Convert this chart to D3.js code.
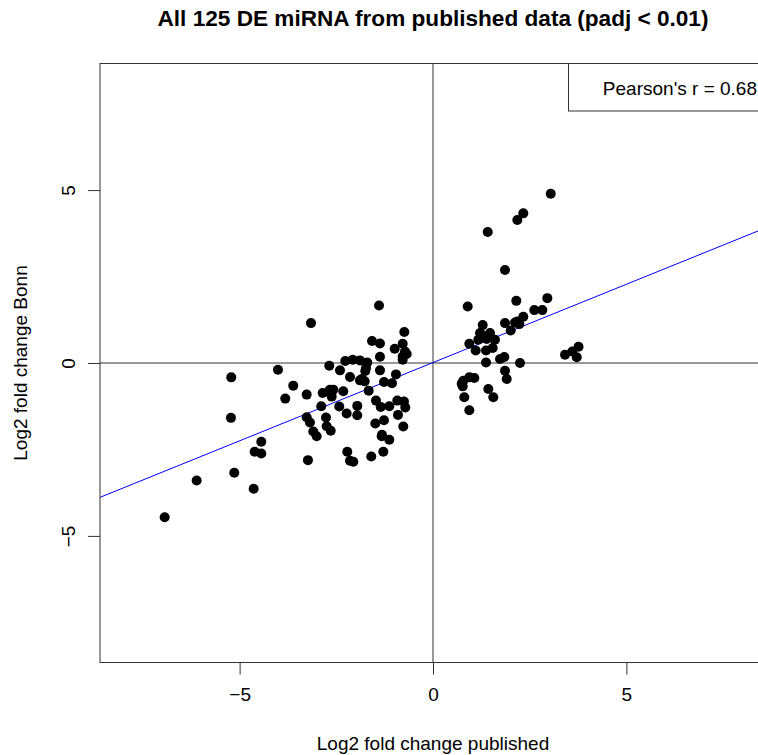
<!DOCTYPE html>
<html>
<head>
<meta charset="utf-8">
<script src="https://d3js.org/d3.v7.min.js"></script>
<style>
  body { margin: 0; background: white; }
  svg { display: block; font-family: "Liberation Sans", Arial, sans-serif; }
</style>
</head>
<body>
<div id="container"></div>
<script>
// log2 fold change published (x) / Bonn (y)
let published = [
  -5.216, -4.008, -3.613, -3.820, -5.224, -4.440, -4.611, -4.440, -5.138, -6.111, -4.637, -6.938,
  -1.396, -3.155, -0.742, -1.577, -1.371, -0.784, -0.990, -0.680, -0.784, -0.784, -1.371, -2.682,
  -2.268, -2.077, -1.888, -1.699, -2.405, -1.751, -1.371, -2.146, -0.957, -1.888, -1.766, -1.267,
  -1.060, -1.663, -2.320, -3.266, -2.852, -2.664, -2.620, -1.474, -0.923, -0.750, -2.889, -2.423,
  -1.958, -1.352, -1.130, -0.716, -2.232, -1.958, -0.905, -3.266, -2.767, -1.492, -1.267, -3.181,
  -2.749, -0.768, -2.645, -3.095, -1.319, -3.008, -1.130, -2.216, -1.285, -1.596, -2.146, -2.061,
  -3.233, -1.733, -1.836, -0.724, -2.578, -2.682, -1.327,
  3.044, 2.335, 2.180, 1.415, 1.862,
  0.897, 2.154, 2.956, 2.620, 2.826, 2.335, 1.285, 1.862, 2.121, 2.232, 2.009, 1.474, 1.259, 1.603,
  1.171, 0.939, 1.104, 1.371, 1.544, 1.371, 1.733, 1.844, 2.250, 1.862, 1.906, 0.784, 0.939, 1.068,
  0.768, 1.430, 1.559, 0.809, 0.939, 3.414, 3.602, 3.763, 3.716,
  1.389, 1.215, 0.742, 2.180
];
let bonn = [
  -0.415, -0.193, -0.655, -1.030, -1.586, -2.279, -2.567, -2.616, -3.173, -3.395, -3.634, -4.462,
  1.661, 1.154, 0.894, 0.635, 0.565, 0.557, 0.412, 0.260, 0.190, 0.095, 0.182, -0.078,
  0.058, 0.095, 0.075, 0.017, -0.213, -0.231, -0.213, -0.404, -0.329, -0.502, -0.531, -0.548,
  -0.588, -0.799, -0.819, -0.914, -0.865, -0.770, -0.972, -1.087, -1.087, -1.116, -1.252, -1.260,
  -1.240, -1.269, -1.252, -1.289, -1.462, -1.511, -1.500, -1.569, -1.578, -1.751, -1.656, -1.722,
  -1.829, -1.837, -1.961, -1.982, -2.077, -2.117, -2.221, -2.567, -2.567, -2.703, -2.827, -2.855,
  -2.809, -0.144, -0.461, 0.335, -0.770, -0.848, -2.117,
  4.892, 4.327, 4.133, 3.787, 2.691,
  1.633, 1.797, 1.875, 1.529, 1.529, 1.335, 1.096, 1.154, 1.171, 1.125, 0.940, 0.865, 0.816, 0.672,
  0.672, 0.557, 0.363, 0.363, 0.433, 0.017, 0.115, 0.173, 0.000, -0.222, -0.461, -0.511, -0.415, -0.433,
  -0.675, -0.750, -0.992, -0.992, -1.367, 0.239, 0.335, 0.470, 0.167,
  0.692, 0.865, -0.597, 1.200
];

// fitted line (lm) and correlation
let fitIntercept = 0.013;
let fitSlope = 0.4527;
let pearsonR = "0.68";

let xTicks = [-5, 0, 5];
let yTicks = [-5, 0, 5];
let xLimits = [-8.61, 8.61];
let yLimits = [-8.66, 8.66];

let points = published.map(function(d, i){ return {x: d, y: bonn[i]}; });

let w = 758;
let h = 755;
let plotLeft = 100, plotRight = 766, plotTop = 63.5, plotBottom = 662.5;
let labelSize = "19px";

let viz = d3.select("#container")
  .append("svg")
    .attr("width", w)
    .attr("height", h)
;

let x = d3.scaleLinear().domain(xLimits).range([plotLeft, plotRight]);
let y = d3.scaleLinear().domain(yLimits).range([plotBottom, plotTop]);

viz.append("clipPath").attr("id", "plotClip")
  .append("rect")
    .attr("x", plotLeft).attr("y", plotTop)
    .attr("width", plotRight - plotLeft).attr("height", plotBottom - plotTop)
;

let plot = viz.append("g").attr("clip-path", "url(#plotClip)");

//zero lines
plot.append("line")
    .attr("x1", x(0)).attr("x2", x(0))
    .attr("y1", plotTop).attr("y2", plotBottom)
    .style("stroke", "#333")
    .style("stroke-width", 1)
;
plot.append("line")
    .attr("x1", plotLeft).attr("x2", plotRight)
    .attr("y1", y(0)).attr("y2", y(0))
    .style("stroke", "#333")
    .style("stroke-width", 1)
;

//regression line
plot.append("line")
    .attr("x1", x(xLimits[0])).attr("y1", y(fitIntercept + fitSlope * xLimits[0]))
    .attr("x2", x(xLimits[1])).attr("y2", y(fitIntercept + fitSlope * xLimits[1]))
    .style("stroke", "#0000ff")
    .style("stroke-width", 1)
;

//points
plot.selectAll("circle").data(points)
  .enter()
  .append("circle")
    .attr("cx", function(d){ return x(d.x); })
    .attr("cy", function(d){ return y(d.y); })
    .attr("r", 5)
    .style("fill", "black")
;

//legend box
let legend = viz.append("g");
legend.append("rect")
    .attr("x", 568.5).attr("y", plotTop)
    .attr("width", plotRight - 568.5).attr("height", 111 - plotTop)
    .style("fill", "white")
    .style("stroke", "#333")
;
legend.append("text")
    .attr("x", 757)
    .attr("y", 95)
    .attr("text-anchor", "end")
    .style("font-size", labelSize)
    .text("Pearson's r = " + pearsonR)
;

//frame
viz.append("rect")
    .attr("x", plotLeft).attr("y", plotTop)
    .attr("width", plotRight - plotLeft).attr("height", plotBottom - plotTop)
    .style("fill", "none")
    .style("stroke", "#333")
;

//axes
let xAxis = viz.append("g")
    .attr("transform", "translate(0," + plotBottom + ")")
    .call(d3.axisBottom(x).tickValues(xTicks).tickSize(12).tickPadding(13))
;
xAxis.select(".domain").remove();

let yAxis = viz.append("g")
    .attr("transform", "translate(" + plotLeft + ",0)")
    .call(d3.axisLeft(y).tickValues(yTicks).tickSize(12))
;
yAxis.select(".domain").remove();
yAxis.selectAll(".tick text")
    .attr("x", 0)
    .attr("dy", 0)
    .attr("transform", "translate(-25,0) rotate(-90)")
    .attr("text-anchor", "middle")
;

viz.selectAll(".tick line").style("stroke", "#333");
viz.selectAll(".tick text")
    .style("font-family", "Liberation Sans, Arial, sans-serif")
    .style("font-size", labelSize)
    .style("fill", "black")
;

//titles
viz.append("text")
    .attr("x", 433)
    .attr("y", 26)
    .attr("text-anchor", "middle")
    .style("font-weight", "bold")
    .style("font-size", "22.6px")
    .text("All 125 DE miRNA from published data (padj < 0.01)")
;
viz.append("text")
    .attr("x", 433)
    .attr("y", 750)
    .attr("text-anchor", "middle")
    .style("font-size", labelSize)
    .text("Log2 fold change published")
;
viz.append("text")
    .attr("transform", "translate(27," + y(0) + ") rotate(-90)")
    .attr("text-anchor", "middle")
    .style("font-size", labelSize)
    .text("Log2 fold change Bonn")
;
</script>
</body>
</html>
